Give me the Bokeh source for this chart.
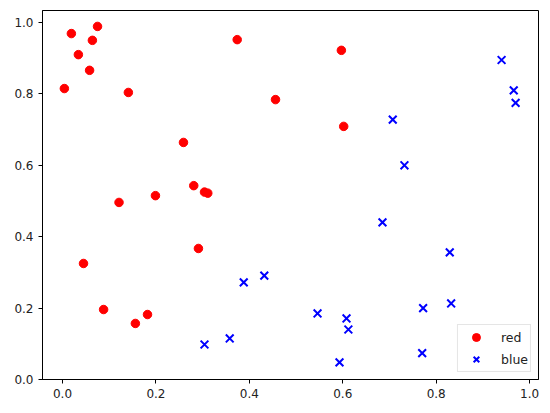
from bokeh.plotting import figure
from bokeh.models import Range1d, FixedTicker, PrintfTickFormatter, Legend, LegendItem, ColumnDataSource
from bokeh.embed import file_html
from bokeh.resources import INLINE

red_x = [0.004, 0.019, 0.034, 0.058, 0.064, 0.075, 0.141, 0.259, 0.374, 0.456,
         0.281, 0.304, 0.311, 0.199, 0.121, 0.597, 0.602, 0.045, 0.088, 0.156,
         0.182, 0.291]
red_y = [0.815, 0.969, 0.910, 0.866, 0.950, 0.989, 0.804, 0.664, 0.952, 0.784,
         0.543, 0.525, 0.522, 0.515, 0.496, 0.922, 0.709, 0.325, 0.196, 0.157,
         0.182, 0.367]
blue_x = [0.940, 0.966, 0.970, 0.707, 0.732, 0.685, 0.829, 0.832, 0.772, 0.546,
          0.608, 0.612, 0.770, 0.593, 0.304, 0.358, 0.388, 0.432]
blue_y = [0.895, 0.810, 0.775, 0.728, 0.600, 0.440, 0.356, 0.213, 0.200, 0.185,
          0.171, 0.140, 0.074, 0.048, 0.098, 0.115, 0.272, 0.291]
ticks = [0.0, 0.2, 0.4, 0.6, 0.8, 1.0]
labels = ["red", "blue"]

FONT = "DejaVu Sans"

p = figure(width=542, height=405, output_backend="svg", toolbar_location=None,
           x_range=Range1d(-0.0428, 1.019), y_range=Range1d(0.0, 1.0336),
           min_border_left=42, min_border_right=4, min_border_top=10, min_border_bottom=26)
p.xgrid.visible = False
p.ygrid.visible = False
p.outline_line_color = "black"
p.outline_line_width = 1
p.outline_line_alpha = 1
p.background_fill_color = "white"
p.border_fill_color = "white"

for ax in (p.xaxis[0], p.yaxis[0]):
    ax.ticker = FixedTicker(ticks=ticks)
    ax.formatter = PrintfTickFormatter(format="%.1f")
    ax.major_tick_in = 0
    ax.major_tick_out = 4
    ax.minor_tick_line_color = None
    ax.axis_line_color = "black"
    ax.major_tick_line_color = "black"
    ax.major_label_text_font = FONT
    ax.major_label_text_font_size = "12px"
    ax.major_label_text_color = "#222222"
    ax.major_label_standoff = 5

src_r = ColumnDataSource(dict(x=red_x, y=red_y))
src_b = ColumnDataSource(dict(x=blue_x, y=blue_y))
r1 = p.scatter("x", "y", source=src_r, marker="circle", size=8.5,
               fill_color="#ff0000", line_color="#ff0000", line_width=1)
r2 = p.scatter("x", "y", source=src_b, marker="x", size=11,
               line_color="#0000ff", line_width=2)

legend = Legend(items=[LegendItem(label=labels[0], renderers=[r1]),
                       LegendItem(label=labels[1], renderers=[r2])],
                location="bottom_right")
legend.margin = 7
legend.padding = 2
legend.spacing = 2
legend.glyph_width = 32
legend.glyph_height = 20
legend.label_height = 20
legend.label_standoff = 9
legend.label_text_font = FONT
legend.label_text_font_size = "12.5px"
legend.label_text_color = "#222222"
legend.border_line_color = "#cccccc"
legend.border_line_width = 1
legend.background_fill_alpha = 0.8
p.add_layout(legend)

open("out.html", "w").write(file_html(p, INLINE))
